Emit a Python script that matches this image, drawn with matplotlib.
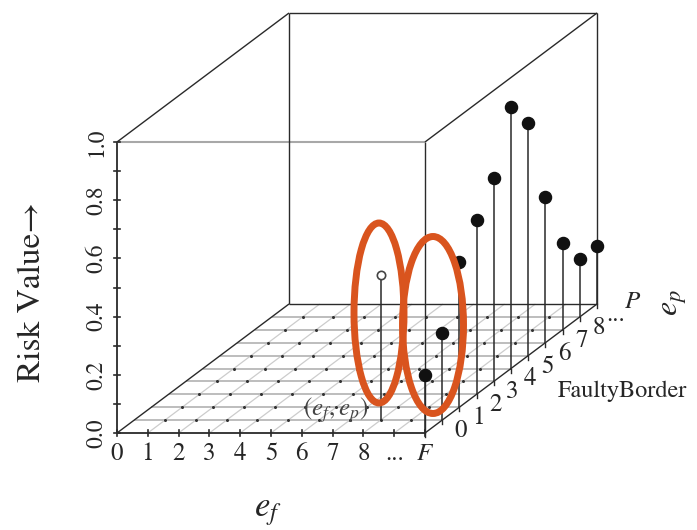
import numpy as np
import matplotlib
matplotlib.use("Agg")
import matplotlib.pyplot as plt
from matplotlib.patches import Ellipse

plt.rcParams['font.family'] = ['STIXGeneral', 'DejaVu Serif']
plt.rcParams['mathtext.fontset'] = 'stix'

# Axis ticks / labels
ef_ticks = list(range(11))
ef_labels = ['0', '1', '2', '3', '4', '5', '6', '7', '8', '...', '$F$']
ep_ticks = list(range(11))
ep_labels = ['0', '1', '2', '3', '4', '5', '6', '7', '8', '...', '$P$']
risk_ticks = [0.0, 0.2, 0.4, 0.6, 0.8, 1.0]
risk_minor = [0.1, 0.3, 0.5, 0.7, 0.9]

# Faulty border stems (ef = F, ep = 0..P)
border_ef = 10
border_ep = [0, 1, 2, 3, 4, 5, 6, 7, 8, 9, 10]
border_risk = [0.2, 0.3, 0.5, 0.6, 0.7, 0.9, 0.8, 0.5, 0.3, 0.2, 0.2]

# single sample point (ef, ep)
sample_ef, sample_ep, sample_risk = 8, 1, 0.5

# oblique projection (pixel space)
O = (117.0, 433.0)
UX = 30.8           # ef step
VX, VY = 17.2, 12.9  # ep step (right, up)
UZ = 291.0          # risk 0..1
TXT = '#262626'


def proj(ef, ep, z):
    ef = np.asarray(ef, float)
    ep = np.asarray(ep, float)
    z = np.asarray(z, float)
    return O[0] + ef * UX + ep * VX, O[1] - ep * VY - z * UZ


def line3(ax, p0, p1, **kw):
    x, y = proj([p0[0], p1[0]], [p0[1], p1[1]], [p0[2], p1[2]])
    ax.plot(x, y, solid_capstyle='butt', **kw)


fig = plt.figure(figsize=(6.97, 5.30), dpi=100)
ax = fig.add_axes([0, 0, 1, 1])
ax.set_xlim(0, 697)
ax.set_ylim(530, 0)
ax.axis('off')

# floor grid
for k in range(1, 10):
    line3(ax, (0, k, 0), (10, k, 0), color='#bdbdbd', lw=1.4, zorder=1)
    line3(ax, (k, 0, 0), (k, 10, 0), color='#cccccc', lw=0.9, zorder=1)
gx, gy = np.meshgrid(range(1, 10), range(1, 10))
px, py = proj(gx.ravel(), gy.ravel(), 0)
ax.plot(px, py, 'o', ms=1.2, color='#333333', zorder=2)

# box
edge = dict(color='#2a2a2a', lw=1.0, zorder=3)
line3(ax, (0, 0, 0), (10, 0, 0), color='#2a2a2a', lw=1.3, zorder=3)
line3(ax, (0, 0, 0), (0, 0, 1), color='#2a2a2a', lw=1.3, zorder=3)
line3(ax, (0, 0, 1), (10, 0, 1), color='#a8a8a8', lw=1.5, zorder=3)
line3(ax, (10, 0, 0), (10, 0, 1), **edge)
line3(ax, (0, 0, 0), (0, 10, 0), **edge)
line3(ax, (10, 0, 0), (10, 10, 0), **edge)
line3(ax, (0, 10, 0), (10, 10, 0), **edge)
line3(ax, (0, 0, 1), (0, 10, 1), **edge)
line3(ax, (10, 0, 1), (10, 10, 1), **edge)
line3(ax, (0, 10, 1), (10, 10, 1), **edge)
line3(ax, (0, 10, 0), (0, 10, 1), **edge)
line3(ax, (10, 10, 0), (10, 10, 1), **edge)

# ef ticks and labels
for t, lab in zip(ef_ticks, ef_labels):
    x, y = proj(t, 0, 0)
    ax.plot([x, x], [y - 3, y + 3], color='#2a2a2a', lw=1.2, zorder=3)
    ax.text(x, y + 21, lab, ha='center', va='center', fontsize=18, color=TXT)

# ep ticks and labels
for t, lab in zip(ep_ticks, ep_labels):
    x, y = proj(border_ef, t, 0)
    ax.plot([x, x], [y, y + 4], color='#2a2a2a', lw=1.0, zorder=3)
    ax.text(x + 36, y - 2, lab, ha='center', va='center', fontsize=18, color=TXT)

# risk ticks and labels
for t in risk_ticks + risk_minor:
    x, y = proj(0, 0, t)
    ax.plot([x - 3, x + 3], [y, y], color='#2a2a2a', lw=1.2, zorder=3)
for t in risk_ticks:
    x, y = proj(0, 0, t)
    ax.text(x - 20, y, f'{t:.1f}', ha='center', va='center', rotation=90,
            fontsize=17, color=TXT)

# stems on the faulty border
bx, by0 = proj([border_ef] * len(border_ep), border_ep, 0)
_, by1 = proj([border_ef] * len(border_ep), border_ep, border_risk)
for x, y0, y1 in zip(bx, by0, by1):
    ax.plot([x, x], [y0, y1], color='#2a2a2a', lw=1.1, zorder=4)
ax.plot(bx, by1, 'o', ms=8.7, color='#111111', zorder=5)

# sample point
sx, sy0 = proj(sample_ef, sample_ep, 0)
_, sy1 = proj(sample_ef, sample_ep, sample_risk)
ax.plot([sx, sx], [sy0, sy1], color='#2a2a2a', lw=1.1, zorder=4)
ax.plot([sx], [sy1], 'o', ms=6, mfc='white', mec='#444444', mew=1.2, zorder=5)
ax.text(336, 410, r'$(e_f,e_p)$', ha='center', va='center', fontsize=18, color='#444444')

# axis titles
ax.text(32, 292, 'Risk Value\u2192', ha='center', va='center', rotation=90,
        fontsize=24, color=TXT)
ax.text(268, 512, r'$e_f$', ha='center', va='center', fontsize=25, color=TXT)
ax.text(674, 303, r'$e_p$', ha='center', va='center', rotation=90, fontsize=23,
        color=TXT)
ax.text(622, 391, 'FaultyBorder', ha='center', va='center', fontsize=17.5, color=TXT)

# highlight ellipses
for cx, cy, w, h in [(379, 313, 50, 180), (433, 325, 61, 177)]:
    ax.add_patch(Ellipse((cx, cy), w, h, fill=False, ec='#d9541e', lw=5, zorder=6))

fig.savefig('out.png', dpi=100)
